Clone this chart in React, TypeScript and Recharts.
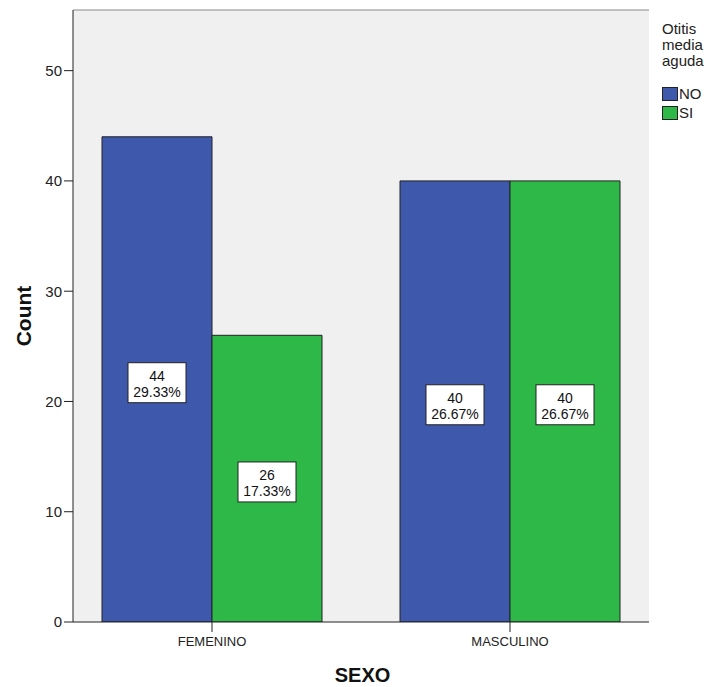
import React from 'react';
import { BarChart, Bar, XAxis, YAxis, CartesianGrid, LabelList, Legend, Label, ReferenceLine } from 'recharts';

const categories = ['FEMENINO', 'MASCULINO'];
const noValues = [44, 40];
const siValues = [26, 40];
const yTicks = [0, 10, 20, 30, 40, 50];
const yMax = 55.5;
const legendTitle = ['Otitis', 'media', 'aguda'];
const seriesNames = ['NO', 'SI'];
const colors = ['#3E58AC', '#2EB848'];
const xTitle = 'SEXO';
const yTitle = 'Count';

const total = [...noValues, ...siValues].reduce((a, b) => a + b, 0);
const data = categories.map((c, i) => ({ sexo: c, NO: noValues[i], SI: siValues[i] }));
const FONT = '"Liberation Sans", Arial, sans-serif';

function ValueBox(props: any) {
  const { x, y, width, height, value } = props;
  const cx = Number(x) + Number(width) / 2;
  const cy = Number(y) + Number(height) / 2 + 3.3;
  const w = 58;
  const h = 40;
  const pct = ((Number(value) / total) * 100).toFixed(2) + '%';
  return (
    <g>
      <rect x={cx - w / 2} y={cy - h / 2} width={w} height={h} fill="#fff" stroke="#222" strokeWidth={1} />
      <text x={cx} y={cy - 2} textAnchor="middle" fontFamily={FONT} fontSize={14} fill="#111">{value}</text>
      <text x={cx} y={cy + 14.5} textAnchor="middle" fontFamily={FONT} fontSize={14} fill="#111">{pct}</text>
    </g>
  );
}

function LegendBox() {
  return (
    <div style={{ fontFamily: FONT, fontSize: 15, lineHeight: '16px', color: '#222', whiteSpace: 'nowrap', width: 60 }}>
      {legendTitle.map((t) => (
        <div key={t}>{t}</div>
      ))}
      <div style={{ height: 15 }} />
      {seriesNames.map((n, i) => (
        <div key={n} style={{ display: 'flex', alignItems: 'center', height: 19 }}>
          <span
            style={{
              display: 'inline-block',
              flex: '0 0 16px',
              width: 16,
              height: 14,
              boxSizing: 'border-box',
              border: '1px solid #222',
              background: colors[i],
              marginRight: 1,
            }}
          />
          <span>{n}</span>
        </div>
      ))}
    </div>
  );
}

export default function App() {
  return (
    <div style={{ position: 'absolute', left: 0, top: 0, width: 713, height: 687, background: '#fff' }}>
      <BarChart
        width={713}
        height={687}
        data={data}
        margin={{ top: 10, right: 64, bottom: 0, left: 0 }}
        barCategoryGap={39}
        barGap={0}
      >
        <CartesianGrid fill="#F0F0F0" horizontal={false} vertical={false} />
        <XAxis
          dataKey="sexo"
          padding={{ left: -10, right: -10 }}
          height={65}
          interval={0}
          tickSize={10}
          tickMargin={5}
          tickLine={{ stroke: '#222' }}
          axisLine={{ stroke: '#222' }}
          tick={{ fontSize: 13, fill: '#222', fontFamily: FONT }}
        >
          <Label
            content={(p: any) => {
              const vb = p.viewBox || {};
              return (
                <text x={vb.x + vb.width / 2 + 1.5} y={vb.y + 60} textAnchor="middle" fontFamily={FONT} fontSize={20} fontWeight="bold" fill="#111">
                  {xTitle}
                </text>
              );
            }}
          />
        </XAxis>
        <YAxis
          domain={[0, yMax]}
          ticks={yTicks}
          width={73}
          tickSize={9}
          tickMargin={2}
          allowDataOverflow
          tickLine={{ stroke: '#222' }}
          axisLine={{ stroke: '#222' }}
          tick={{ fontSize: 15, fill: '#222', fontFamily: FONT }}
        >
          <Label
            content={(p: any) => {
              const vb = p.viewBox || {};
              const lx = vb.x + 31;
              const ly = vb.y + vb.height / 2;
              return (
                <text x={lx} y={ly} transform={`rotate(-90, ${lx}, ${ly})`} textAnchor="middle" fontFamily={FONT} fontSize={21} fontWeight="bold" fill="#111">
                  {yTitle}
                </text>
              );
            }}
          />
        </YAxis>
        <YAxis yAxisId="right" orientation="right" width={0} domain={[0, yMax]} tick={false} tickLine={false} axisLine={{ stroke: '#888' }} />
        <ReferenceLine y={yMax} stroke="#888" strokeWidth={1} ifOverflow="visible" />
        <Legend
          content={() => <LegendBox />}
          wrapperStyle={{ left: 662, top: 21, width: 0, height: 0 }}
        />
        <Bar dataKey="NO" fill={colors[0]} stroke="#222" strokeWidth={1} isAnimationActive={false}>
          <LabelList dataKey="NO" content={ValueBox} />
        </Bar>
        <Bar dataKey="SI" fill={colors[1]} stroke="#222" strokeWidth={1} isAnimationActive={false}>
          <LabelList dataKey="SI" content={ValueBox} />
        </Bar>
      </BarChart>
    </div>
  );
}
